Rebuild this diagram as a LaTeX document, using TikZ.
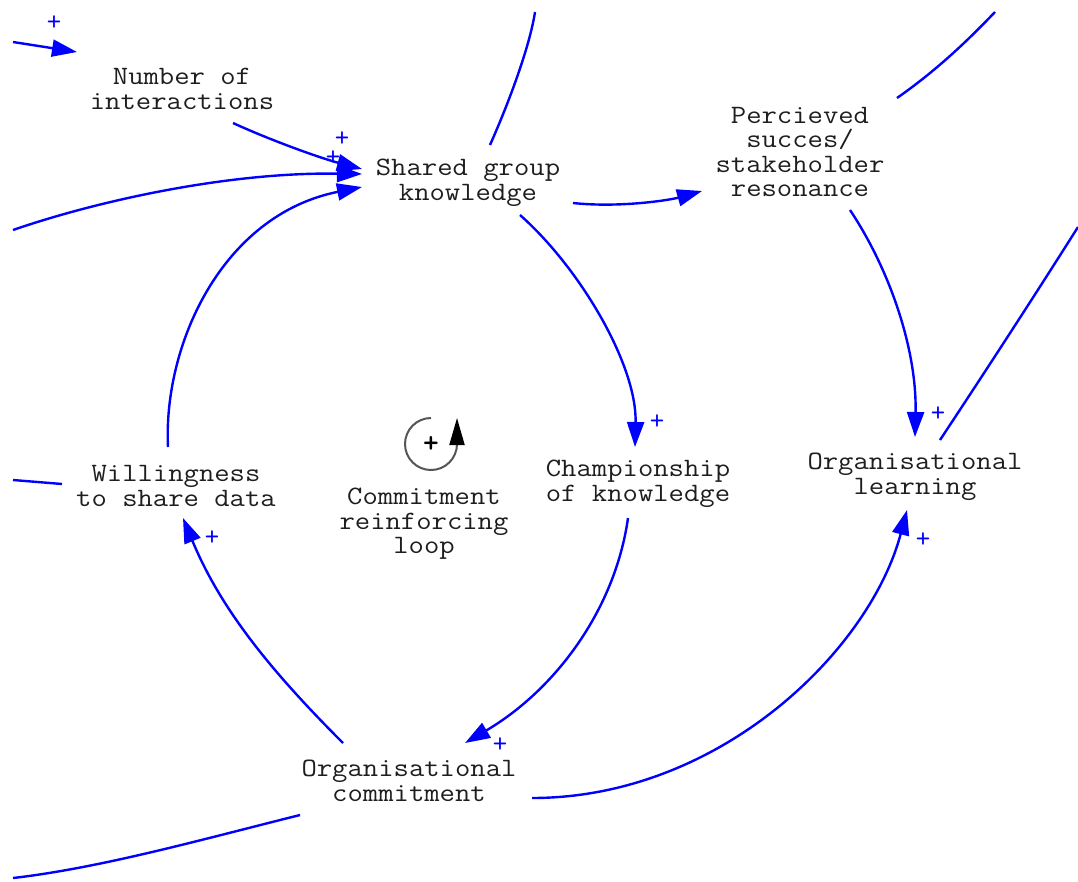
\documentclass[tikz,border=0pt]{standalone}
\usepackage{fontspec}
\usetikzlibrary{arrows.meta,calc}
\definecolor{linkblue}{RGB}{0,0,255}
\definecolor{labelgray}{RGB}{30,30,30}
\definecolor{loopgray}{RGB}{85,85,85}

\begin{document}
\begin{tikzpicture}[x=1pt,y=1pt,
  var/.style={align=center, inner sep=0pt, text=labelgray, xscale=1.125,
    font=\ttfamily\fontsize{26.5}{24.6}\selectfont},
  link/.style={draw=linkblue, line width=2.4pt,
    -{Triangle[length=25pt,width=17pt]}},
  cut/.style={draw=linkblue, line width=2.4pt},
  pol/.style={text=linkblue, inner sep=0pt, font=\ttfamily\fontsize{28}{28}\selectfont}]
\useasboundingbox (0,0) rectangle (1078,-881);
\fill[white] (0,0) rectangle (1078,-881);

% variables
\node[var] (noi) at (182,-89)  {Number of\\interactions};
\node[var] (sgk) at (468,-183) {Shared group\\knowledge};
\node[var] (psr) at (800,-152) {Percieved\\succes/\\stakeholder\\resonance};
\node[var] (cok) at (638,-484) {Championship\\of knowledge};
\node[var] (ol)  at (915,-477) {Organisational\\learning};
\node[var] (wsd) at (176,-486) {Willingness\\to share data};
\node[var] (crl) at (424,-524) {Commitment\\reinforcing\\loop};
\node[var] (oc)  at (409,-781) {Organisational\\commitment};

% loose ends of links leaving the view
\coordinate (e1a) at (13,-42);
\coordinate (e1b) at (77,-52);
\coordinate (e3)  at (13,-230);
\coordinate (e5)  at (535,-12);
\coordinate (e9)  at (995,-12);
\coordinate (e10) at (1078,-227);
\coordinate (e14) at (13,-878);
\coordinate (e15) at (13,-480);

% causal links
\draw[link] (e1a) -- (e1b);
\draw[link] ($(noi)+(51,-34)$) .. controls (270,-140) and (320,-158) .. ($(sgk)+(-106,14)$);
\draw[link] (e3) .. controls (100,-200) and (230,-172) .. ($(sgk)+(-106,9)$);
\draw[link] ($(wsd)+(-8,39)$) .. controls (163,-345) and (222,-215) .. ($(sgk)+(-106,-4)$);
\draw[cut]  ($(sgk)+(22,38)$) .. controls (510,-100) and (530,-45) .. (e5);
\draw[link] ($(sgk)+(105,-20)$) .. controls (620,-208) and (670,-200) .. ($(psr)+(-98,-39)$);
\draw[link] ($(sgk)+(52,-32)$) .. controls (580,-268) and (637,-365) .. ($(cok)+(-3,37)$);
\draw[link] ($(psr)+(50,-58)$) .. controls (890,-270) and (917,-350) .. ($(ol)+(0,40)$);
\draw[cut]  ($(psr)+(97,54)$) .. controls (940,-68) and (972,-36) .. (e9);
\draw[cut]  ($(ol)+(25,37)$) .. controls (985,-372) and (1035,-295) .. (e10);
\draw[link] ($(cok)+(-10,-34)$) .. controls (615,-610) and (555,-690) .. ($(oc)+(56,38)$);
\draw[link] ($(oc)+(-66,38)$) .. controls (272,-672) and (221,-610) .. ($(wsd)+(7,-32)$);
\draw[link] ($(oc)+(123,-17)$) .. controls (720,-798) and (870,-650) .. ($(ol)+(-8,-33)$);
\draw[cut]  ($(oc)+(-109,-34)$) .. controls (200,-840) and (100,-868) .. (e14);
\draw[cut]  ($(wsd)+(-114,2)$) -- (e15);

% link polarities
\node[pol] (p1)  at (54,-23)   {+};
\node[pol] (p2)  at (342,-139) {+};
\node[pol] (p3)  at (333,-158) {+};
\node[pol] (p7)  at (657,-422) {+};
\node[pol] (p8)  at (938,-414) {+};
\node[pol] (p11) at (500,-745) {+};
\node[pol] (p12) at (212,-538) {+};
\node[pol] (p13) at (923,-540) {+};

% loop marker
\coordinate (loopc) at (431,-444);
\draw[draw=loopgray, line width=2pt,
      -{Triangle[length=27pt,width=15pt,color=black]}]
  (431,-418) arc[start angle=90, end angle=360, radius=26] -- ++(0,26);
\node[inner sep=0pt, font=\ttfamily\bfseries\fontsize{30}{30}\selectfont] (lp) at (loopc) {+};
\end{tikzpicture}
\end{document}
